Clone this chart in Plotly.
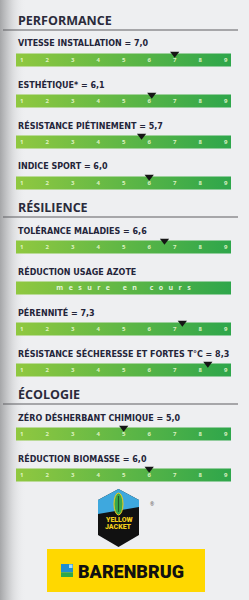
import plotly.graph_objects as go

# ---------------- data ----------------
sections = ["PERFORMANCE", "RÉSILIENCE", "ÉCOLOGIE"]
categories = [
    "VITESSE INSTALLATION",
    "ESTHÉTIQUE*",
    "RÉSISTANCE PIÉTINEMENT",
    "INDICE SPORT",
    "TOLÉRANCE MALADIES",
    "RÉDUCTION USAGE AZOTE",
    "PÉRENNITÉ",
    "RÉSISTANCE SÉCHERESSE ET FORTES T°C",
    "ZÉRO DÉSHERBANT CHIMIQUE",
    "RÉDUCTION BIOMASSE",
]
section_index = [0, 0, 0, 0, 1, 1, 1, 1, 2, 2]
values = [7.0, 6.1, 5.7, 6.0, 6.6, None, 7.3, 8.3, 5.0, 6.0]
tick_values = [1, 2, 3, 4, 5, 6, 7, 8, 9]
tick_labels = ["1", "2", "3", "4", "5", "6", "7", "8", "9"]
pending_text = "mesure en cours"

# ---------------- layout helpers ----------------
W, H = 249, 600
X0PX, UNIT = 21.7, 25.5


def val(px):
    return 1 + (px - X0PX) / UNIT


BAR_L, BAR_R = val(16), val(231)
HALF = 6.5
FONT = "Open Sans"
LABEL_FONT = "DejaVu Sans"
DARK = "#24253a"

header_y = {}
bar_y = []
prev = None
for s in section_index:
    if s != prev:
        hy = 20 if prev is None else bar_y[-1] + 24
        header_y[s] = hy
        c = hy + 40
        prev = s
    else:
        c = bar_y[-1] + 41
    bar_y.append(c)

fig = go.Figure()

# left page shadow
fig.add_trace(go.Scatter(
    x=[val(0), val(26), val(26), val(0), val(0)], y=[0, 0, H, H, 0],
    fill="toself", mode="lines", line=dict(width=0), hoverinfo="skip",
    fillgradient=dict(type="horizontal",
                      colorscale=[[0, "rgba(165,166,168,1)"], [0.5, "rgba(215,216,218,0.8)"],
                                  [1, "rgba(238,239,241,0)"]]),
    showlegend=False))

# gradient bars
bx, by = [], []
for c in bar_y:
    bx += [BAR_L, BAR_R, BAR_R, BAR_L, BAR_L, None]
    by += [c - HALF, c - HALF, c + HALF, c + HALF, c - HALF, None]
fig.add_trace(go.Scatter(
    x=bx, y=by, fill="toself", mode="lines", line=dict(width=0), hoverinfo="skip",
    fillgradient=dict(type="horizontal", colorscale=[[0, "#90c840"], [1, "#2ea64b"]]),
    showlegend=False))

# tick numbers inside bars
tx, ty, tt = [], [], []
for c, v in zip(bar_y, values):
    if v is None:
        continue
    for tv, tl in zip(tick_values, tick_labels):
        tx.append(tv)
        ty.append(c + 0.5)
        tt.append(tl)
fig.add_trace(go.Scatter(
    x=tx, y=ty, text=tt, mode="text", hoverinfo="skip",
    textfont=dict(family=FONT, size=6, color="rgba(235,250,210,0.9)", weight=700),
    showlegend=False))

# "mesure en cours"
for c, v in zip(bar_y, values):
    if v is None:
        words = pending_text.split(" ")
        spaced = ("\u00a0" * 7).join(("\u00a0" * 3).join(list(w)) for w in words)
        fig.add_trace(go.Scatter(
            x=[(BAR_L + BAR_R) / 2], y=[c + 0.5], text=[spaced], mode="text",
            textfont=dict(family=FONT, size=7, color="rgba(240,250,230,0.95)", weight=700),
            hoverinfo="skip", showlegend=False))

# markers
mx = [v for v in values if v is not None]
my = [c - HALF + 0.3 for c, v in zip(bar_y, values) if v is not None]
fig.add_trace(go.Scatter(
    x=mx, y=my, mode="markers", hoverinfo="skip",
    marker=dict(symbol="triangle-down", size=8, color="#151515", line=dict(width=0)),
    showlegend=False))

annotations = []
shapes = []


def fmt(v):
    return f"{v:.1f}".replace(".", ",")


for cat, v, c in zip(categories, values, bar_y):
    txt = cat if v is None else f"{cat} = {fmt(v)}"
    annotations.append(dict(
        x=BAR_L, y=c - 16.5, text=txt, showarrow=False, xanchor="left", yanchor="middle",
        font=dict(family=LABEL_FONT, size=8, color=DARK, weight=700)))

for s, hy in header_y.items():
    annotations.append(dict(
        x=BAR_L, y=hy, text=sections[s], showarrow=False, xanchor="left", yanchor="middle",
        font=dict(family=FONT, size=12.5, color="#2b2b3b", weight=700)))
    shapes.append(dict(type="line", x0=val(3), x1=val(238), y0=hy + 10, y1=hy + 10,
                       xref="x", yref="y", line=dict(color="#5e5f63", width=1.2)))

# ---- Yellow Jacket logo ----
cx = 118.5


def P(pts):
    return "M " + " L ".join(f"{val(x):.4f},{y}" for x, y in pts) + " Z"


hexpts = [(cx, 489), (139, 500), (139, 535), (cx, 547), (98, 535), (98, 500)]
shapes.append(dict(type="path", path=P(hexpts), fillcolor="#111111", line=dict(width=0),
                   xref="x", yref="y"))
shapes.append(dict(type="path", path=P([(cx, 489), (139, 500), (139, 507), (98, 514), (98, 500)]),
                   fillcolor="#3ea8de", line=dict(width=0), xref="x", yref="y"))
shapes.append(dict(type="circle", x0=val(114), x1=val(123), y0=493, y1=515,
                   fillcolor="#3aa84a", line=dict(color="#f2cf1a", width=1),
                   xref="x", yref="y"))
shapes.append(dict(type="line", x0=val(cx), x1=val(cx), y0=496, y1=512,
                   line=dict(color="#1d5a2a", width=1.2), xref="x", yref="y"))
annotations.append(dict(x=val(cx), y=519.5, text="YELLOW", showarrow=False,
                        font=dict(family="Roboto", size=7, color="#f2cf1a", weight=900)))
annotations.append(dict(x=val(cx), y=526.5, text="JACKET", showarrow=False,
                        font=dict(family="Roboto", size=7, color="#f2cf1a", weight=900)))
annotations.append(dict(x=val(152), y=504, text="®", showarrow=False,
                        font=dict(family=FONT, size=5, color="#555555")))

# ---- Barenbrug logo ----
shapes.append(dict(type="rect", x0=val(47), x1=val(205), y0=549, y1=592,
                   fillcolor="#ffd800", line=dict(width=0), xref="x", yref="y"))
shapes.append(dict(type="rect", x0=val(61), x1=val(73), y0=564, y1=572.5,
                   fillcolor="#1f8fcf", line=dict(width=0), xref="x", yref="y"))
shapes.append(dict(type="rect", x0=val(61), x1=val(73), y0=572.5, y1=577,
                   fillcolor="#2ea84a", line=dict(width=0), xref="x", yref="y"))
shapes.append(dict(type="rect", x0=val(69), x1=val(72.5), y0=564.5, y1=568,
                   fillcolor="#a6dcf2", line=dict(width=0), xref="x", yref="y"))
annotations.append(dict(x=val(76), y=571, text="BARENBRUG", showarrow=False,
                        xanchor="left", yanchor="middle",
                        font=dict(family="Roboto", size=18, color="#111111", weight=900)))

fig.update_layout(
    width=W, height=H, margin=dict(l=0, r=0, t=0, b=0),
    paper_bgcolor="#eeeff1", plot_bgcolor="#eeeff1",
    xaxis=dict(range=[val(0), val(W)], visible=False, fixedrange=True),
    yaxis=dict(range=[H, 0], visible=False, fixedrange=True),
    annotations=annotations, shapes=shapes, showlegend=False,
)

fig.write_html("out.html")
